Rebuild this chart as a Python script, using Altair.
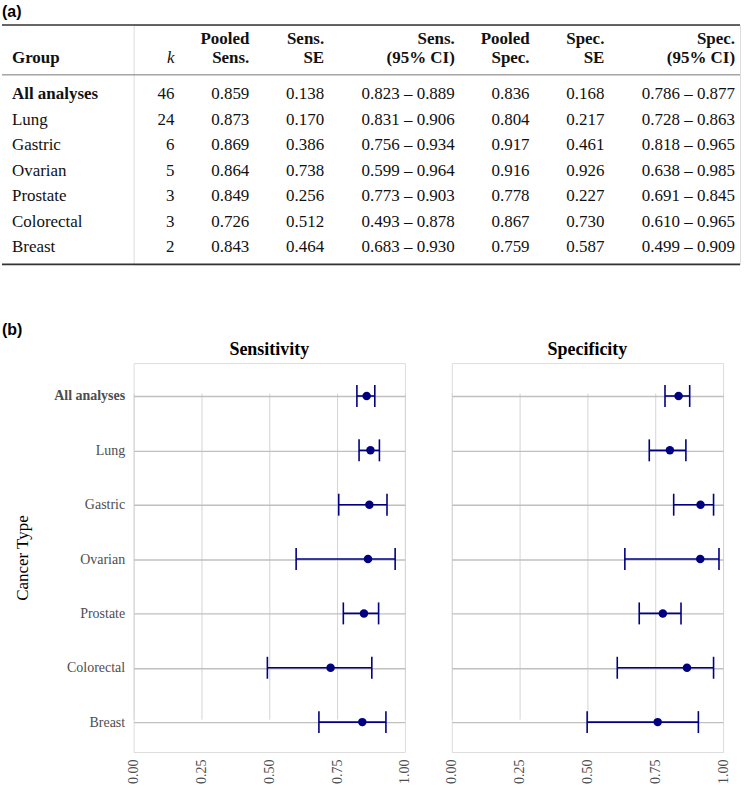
import altair as alt
import pandas as pd

# ---------------- data ----------------
groups = ["All analyses", "Lung", "Gastric", "Ovarian", "Prostate", "Colorectal", "Breast"]
k = [46, 24, 6, 5, 3, 3, 2]
sens = [0.859, 0.873, 0.869, 0.864, 0.849, 0.726, 0.843]
sens_se = [0.138, 0.170, 0.386, 0.738, 0.256, 0.512, 0.464]
sens_lo = [0.823, 0.831, 0.756, 0.599, 0.773, 0.493, 0.683]
sens_hi = [0.889, 0.906, 0.934, 0.964, 0.903, 0.878, 0.930]
spec = [0.836, 0.804, 0.917, 0.916, 0.778, 0.867, 0.759]
spec_se = [0.168, 0.217, 0.461, 0.926, 0.227, 0.730, 0.587]
spec_lo = [0.786, 0.728, 0.818, 0.638, 0.691, 0.610, 0.499]
spec_hi = [0.877, 0.863, 0.965, 0.985, 0.845, 0.965, 0.909]

col_headers = ["Group", "k", "Pooled\nSens.", "Sens.\nSE", "Sens.\n(95% CI)",
               "Pooled\nSpec.", "Spec.\nSE", "Spec.\n(95% CI)"]
tick_vals = [0.0, 0.25, 0.5, 0.75, 1.0]

# ---------------- style / layout ----------------
SERIF = "Liberation Serif"
SANS = "Liberation Sans"
NAVY = "#000080"
TXT = "#111111"
ORIGIN = 134                   # page x of the forest-plot origin (shared by the table)
LEFT_EXT = 132                 # from that origin back to the page's left margin
TABLE_W, TABLE_H = 742 - ORIGIN, 240
col_x = [c - ORIGIN for c in [12, 175, 250, 325, 456, 531, 606, 737]]   # column anchors

# ---------------- table (a) ----------------
cells = []
for i, g in enumerate(groups):
    vals = [g, str(k[i]), f"{sens[i]:.3f}", f"{sens_se[i]:.3f}",
            f"{sens_lo[i]:.3f} – {sens_hi[i]:.3f}", f"{spec[i]:.3f}",
            f"{spec_se[i]:.3f}", f"{spec_lo[i]:.3f} – {spec_hi[i]:.3f}"]
    for j, v in enumerate(vals):
        cells.append({"group": g, "col": j, "text": v})
cells_df = pd.DataFrame(cells)
head_df = pd.DataFrame({"col": list(range(len(col_headers))), "text": col_headers})

xcol = alt.X("col:Q", scale=alt.Scale(domain=list(range(8)), range=col_x), axis=None)
yrow = alt.Y("group:N", sort=groups,
             scale=alt.Scale(type="point", domain=groups, range=[74.5, 228], padding=0), axis=None)

body = alt.Chart(cells_df)
names_norm = body.mark_text(align="left", baseline="alphabetic", font=SERIF, fontSize=17,
                            color=TXT).encode(x=xcol, y=yrow, text="text:N").transform_filter(
    "datum.col == 0 && datum.group != 'All analyses'")
names_bold = body.mark_text(align="left", baseline="alphabetic", font=SERIF, fontSize=17,
                            fontWeight="bold", color=TXT).encode(x=xcol, y=yrow, text="text:N").transform_filter(
    "datum.col == 0 && datum.group == 'All analyses'")
numbers = body.mark_text(align="right", baseline="alphabetic", font=SERIF, fontSize=17,
                         color=TXT).encode(x=xcol, y=yrow, text="text:N").transform_filter("datum.col > 0")

head = alt.Chart(head_df)
h_group = head.mark_text(align="left", baseline="alphabetic", font=SERIF, fontSize=17, fontWeight="bold",
                         color=TXT).encode(x=xcol, y=alt.value(38), text="text:N").transform_filter("datum.col == 0")
h_k = head.mark_text(align="right", baseline="alphabetic", font=SERIF, fontSize=17, fontStyle="italic",
                     color=TXT).encode(x=xcol, y=alt.value(38), text="text:N").transform_filter("datum.col == 1")
h_rest = head.mark_text(align="right", baseline="alphabetic", font=SERIF, fontSize=17, fontWeight="bold",
                        lineBreak="\n", lineHeight=19, color=TXT).encode(
    x=xcol, y=alt.value(19), text="text:N").transform_filter("datum.col > 1")

one = alt.Data(values=[{}])
rule_top = alt.Chart(one).mark_rule(color="#333333", strokeWidth=1.6).encode(
    x=alt.value(-LEFT_EXT), x2=alt.value(TABLE_W), y=alt.value(0))
rule_mid = alt.Chart(one).mark_rule(color="#777777", strokeWidth=1).encode(
    x=alt.value(-LEFT_EXT), x2=alt.value(TABLE_W), y=alt.value(50))
rule_bot = alt.Chart(one).mark_rule(color="#333333", strokeWidth=1.6).encode(
    x=alt.value(-LEFT_EXT), x2=alt.value(TABLE_W), y=alt.value(TABLE_H))

table = alt.layer(rule_top, rule_mid, rule_bot, h_group, h_k, h_rest,
                  names_norm, names_bold, numbers).properties(
    width=TABLE_W, height=TABLE_H,
    title=alt.TitleParams("(a)", anchor="start", frame="group", font=SANS, fontSize=16,
                          fontWeight="bold", color="black", offset=4, dx=-LEFT_EXT))

# ---------------- forest plots (b) ----------------
def forest(est, lo, hi, title, left):
    df = pd.DataFrame({"group": groups, "est": est, "lo": lo, "hi": hi})
    common = dict(ticks=False, tickSize=0, domain=False, grid=True,
                  gridColor="#c0c0c0", gridWidth=1.4)
    if left:
        yaxis = alt.Axis(title="Cancer Type", labelFont=SERIF, labelFontSize=14,
                         labelColor="#4d4d4d", labelPadding=9,
                         labelFontWeight=alt.condition("datum.value == 'All analyses'",
                                                       alt.value("bold"), alt.value("normal")),
                         titleFont=SERIF, titleFontSize=17, titleFontWeight="normal",
                         titleColor="black", titleX=-119, titleY=195, titleAngle=270,
                         titleAlign="center", titleBaseline="top", **common)
    else:
        yaxis = alt.Axis(title=None, labels=False, **common)
    y = alt.Y("group:N", sort=groups,
              scale=alt.Scale(type="point", domain=groups, range=[33, 360], padding=0),
              axis=yaxis)
    xscale = alt.Scale(domain=[0, 1], nice=False, zero=False)
    xaxis = alt.Axis(values=tick_vals, format=".2f", labelAngle=270, labelAlign="right",
                     labelBaseline="middle", labelFont=SERIF, labelFontSize=14,
                     labelColor="#4d4d4d", labelPadding=7, ticks=False, tickSize=0,
                     domain=False, grid=True, gridColor="#d4d4d4", gridWidth=1, title=None)
    base = alt.Chart(df)
    bar = base.mark_rule(color=NAVY, strokeWidth=1.6).encode(
        x=alt.X("lo:Q", scale=xscale, axis=xaxis), x2="hi:Q", y=y)
    cap_lo = base.mark_tick(color=NAVY, thickness=1.6, size=22, opacity=1).encode(
        x=alt.X("lo:Q", scale=xscale, axis=xaxis), y=y)
    cap_hi = base.mark_tick(color=NAVY, thickness=1.6, size=22, opacity=1).encode(
        x=alt.X("hi:Q", scale=xscale, axis=xaxis), y=y)
    pt = base.mark_circle(color=NAVY, size=72, opacity=1).encode(
        x=alt.X("est:Q", scale=xscale, axis=xaxis), y=y)
    return alt.layer(bar, cap_lo, cap_hi, pt).properties(
        width=272, height=390,
        title=alt.TitleParams(title, anchor="middle", frame="group", font=SERIF, fontSize=18,
                              fontWeight="bold", color="black", offset=4))

left = forest(sens, sens_lo, sens_hi, "Sensitivity", True)
right = forest(spec, spec_lo, spec_hi, "Specificity", False)

lower = alt.hconcat(left, right, spacing=31,
                    title=alt.TitleParams("(b)", anchor="start", frame="group", font=SANS,
                                          fontSize=16, fontWeight="bold", color="black",
                                          offset=3, dx=-LEFT_EXT))

chart = alt.vconcat(table, lower, spacing=55).properties(
    padding={"left": 0, "top": 2, "right": 2, "bottom": 0}
).configure_view(stroke="transparent", strokeWidth=0).configure(font=SERIF, background="white")

chart.save("out.html", embed_options={"renderer": "svg", "actions": False})
